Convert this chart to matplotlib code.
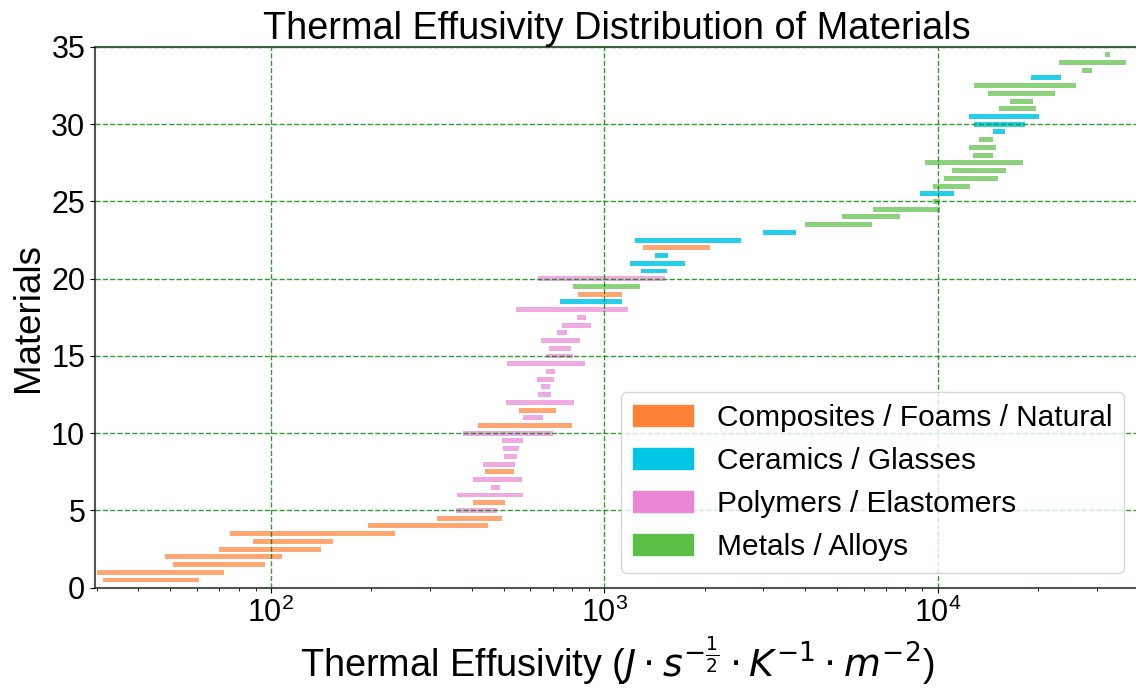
import numpy as np
import matplotlib
matplotlib.use("Agg")
from matplotlib import pyplot as plt
from matplotlib.patches import Patch

plt.rcParams['font.family'] = ['Liberation Sans', 'DejaVu Sans']

# effusivity range of each material, bottom to top
low = [31.4, 30.2, 51.0, 48.0, 69.9, 88.4, 75.4, 195, 314, 358,
       403, 362, 458, 403, 438, 432, 501, 498, 494, 377,
       419, 570, 554, 506, 634, 645, 630, 669, 510, 669,
       684, 645, 721, 748, 827, 545, 738, 832, 807, 634,
       1291, 1197, 1422, 1309, 1234, 3002, 4005, 5174, 6396, 9701,
       8850, 9701, 10466, 11015, 9141, 12735, 12439, 13330, 14683, 12823,
       12439, 15241, 16477, 14155, 12849, 19007, 27085, 23110, 31762]
high = [61.0, 72.5, 96.0, 108, 141, 154, 236, 448, 495, 476,
        505, 570, 487, 567, 537, 541, 548, 554, 570, 700,
        800, 654, 715, 813, 694, 687, 705, 710, 877, 806,
        795, 846, 773, 911, 883, 1176, 1134, 1134, 1280, 1521,
        1544, 1743, 1556, 2075, 2566, 3763, 6339, 7708, 10195, 10160,
        11169, 12500, 15199, 16028, 17989, 14652, 14990, 14652, 15918, 18277,
        20126, 19677, 19352, 22525, 25987, 23431, 28963, 36788, 32877]
group = (['C'] * 9 + ['P', 'C'] + ['P'] * 3 + ['C'] + ['P'] * 5 + ['C', 'P', 'C']
         + ['P'] * 13 + ['G', 'C', 'M', 'P', 'G', 'G', 'G', 'C', 'G', 'G']
         + ['M'] * 4 + ['G'] + ['M'] * 7 + ['G'] * 3 + ['M'] * 4 + ['G'] + ['M'] * 3)

names = {'C': 'Composites / Foams / Natural', 'G': 'Ceramics / Glasses',
         'P': 'Polymers / Elastomers', 'M': 'Metals / Alloys'}
colors = {'C': '#ff8237', 'G': '#00c6e6', 'P': '#ea86d6', 'M': '#5bbf45'}
alphas = {'C': 0.7, 'G': 0.85, 'P': 0.7, 'M': 0.7}

low = np.array(low)
high = np.array(high)
y = 0.5 * (np.arange(len(low)) + 1)

fig = plt.figure(figsize=(11.36, 6.89), dpi=100)
# axes runs a little past the right edge of the figure, as in the original
ax = fig.add_axes([0.0836, 0.147, 0.919, 0.7848])

for g in ['C', 'G', 'P', 'M']:
    m = np.array([k == g for k in group])
    ax.barh(y[m], high[m] - low[m], left=low[m], height=0.32,
            color=colors[g], alpha=alphas[g])

ax.set_xscale('log')
ax.set_xlim(29.68, 40160)
ax.set_ylim(0, 35)
ax.set_yticks(np.arange(0, 36, 5))
ax.set_axisbelow(False)
ax.grid(True, which='major', color='green', linestyle='--', linewidth=1, alpha=0.8)

for s in ['left', 'top', 'bottom', 'right']:
    ax.spines[s].set_color('#555555')
    ax.spines[s].set_linewidth(1.5)
ax.tick_params(axis='both', which='major', labelsize=22)

ax.set_title('Thermal Effusivity Distribution of Materials', fontsize=27.3)
ax.set_xlabel(r'Thermal Effusivity ($J \cdot s^{-\frac{1}{2}} \cdot K^{-1} \cdot m^{-2}$)',
              fontsize=27.3)
ax.set_ylabel('Materials', fontsize=26.5)

handles = [Patch(color=colors[g], label=names[g]) for g in ['C', 'G', 'P', 'M']]
ax.legend(handles=handles, loc='lower right', fontsize=21.5)

fig.savefig('out.png', dpi=100)
